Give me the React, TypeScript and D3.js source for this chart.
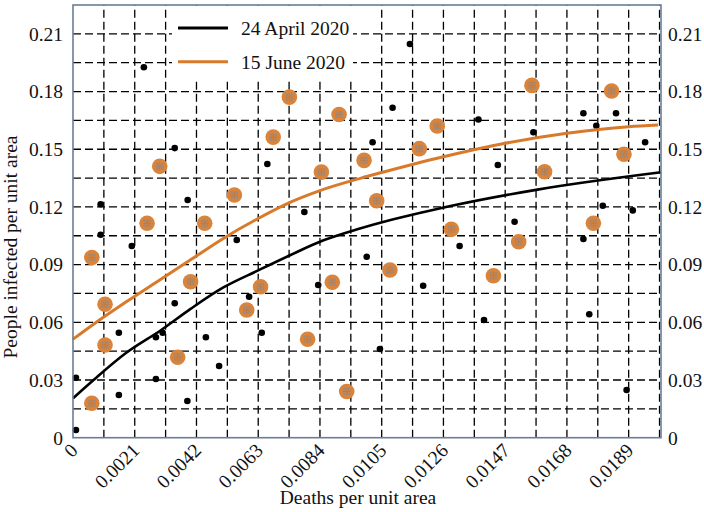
import React from "react";
import * as d3 from "d3";

const W = 704;
const H = 512;

// Fitted curves
const aprilX = [0, 0.0007, 0.0018, 0.003, 0.004, 0.0051, 0.0063, 0.0074, 0.0085, 0.0097, 0.0108, 0.0119, 0.0128, 0.0158, 0.02];
const aprilY = [0.0205, 0.03, 0.044, 0.056, 0.067, 0.078, 0.087, 0.095, 0.1025, 0.1085, 0.1132, 0.1172, 0.1203, 0.129, 0.138];

const juneX = [0, 0.0007, 0.0018, 0.003, 0.004, 0.0051, 0.0063, 0.0074, 0.0084, 0.0098, 0.0105, 0.0126, 0.0147, 0.0168, 0.0189, 0.0199];
const juneY = [0.0512, 0.059, 0.0705, 0.0825, 0.0925, 0.1035, 0.114, 0.1225, 0.1285, 0.135, 0.1379, 0.1461, 0.1531, 0.1583, 0.1617, 0.1626];

// Scatter: 24 April 2020 (black dots)
const aprilPtsX = [0.0001, 0.0001, 0.00094, 0.00094, 0.00156, 0.00156, 0.002, 0.00241, 0.00282, 0.00282, 0.00305, 0.00346, 0.00346, 0.0039, 0.00389, 0.00452, 0.00497, 0.00557, 0.00599, 0.00642, 0.00661, 0.00787, 0.00834, 0.00999, 0.01044, 0.01087, 0.01019, 0.01146, 0.01191, 0.01315, 0.01379, 0.01398, 0.01445, 0.01502, 0.01566, 0.01736, 0.01736, 0.01756, 0.0178, 0.01802, 0.01847, 0.01883, 0.01904, 0.01946];
const aprilPtsY = [0.004, 0.0312, 0.1214, 0.1055, 0.0222, 0.0546, 0.0997, 0.1926, 0.0522, 0.0305, 0.0546, 0.1506, 0.0699, 0.1236, 0.0191, 0.0522, 0.0373, 0.1028, 0.0733, 0.0546, 0.1423, 0.1174, 0.0794, 0.0941, 0.0461, 0.1716, 0.1536, 0.2047, 0.079, 0.0997, 0.1655, 0.0612, 0.1418, 0.1123, 0.1588, 0.1687, 0.1033, 0.0642, 0.1622, 0.1206, 0.1687, 0.0248, 0.1182, 0.1536];

// Scatter: 15 June 2020 (orange circles)
const junePtsX = [0.00064, 0.00109, 0.00109, 0.00064, 0.00252, 0.00295, 0.00356, 0.004, 0.00448, 0.00549, 0.00591, 0.00638, 0.00681, 0.00736, 0.00798, 0.00845, 0.00882, 0.00905, 0.00931, 0.0099, 0.01033, 0.01078, 0.01178, 0.01239, 0.01287, 0.0143, 0.01516, 0.01561, 0.01604, 0.0177, 0.01832, 0.01874];
const junePtsY = [0.0937, 0.0694, 0.0482, 0.0179, 0.1115, 0.1411, 0.0418, 0.0811, 0.1115, 0.1262, 0.0664, 0.0785, 0.1563, 0.1771, 0.0512, 0.1381, 0.0808, 0.1681, 0.024, 0.1442, 0.1232, 0.0872, 0.1503, 0.1621, 0.1084, 0.0842, 0.1019, 0.1832, 0.1383, 0.1115, 0.1803, 0.1474];

const xTicks = [0, 0.0021, 0.0042, 0.0063, 0.0084, 0.0105, 0.0126, 0.0147, 0.0168, 0.0189];
const xTickLabels = ["0", "0.0021", "0.0042", "0.0063", "0.0084", "0.0105", "0.0126", "0.0147", "0.0168", "0.0189"];
const yTicks = [0, 0.03, 0.06, 0.09, 0.12, 0.15, 0.18, 0.21];
const yTickLabels = ["0", "0.03", "0.06", "0.09", "0.12", "0.15", "0.18", "0.21"];

const seriesNames = ["24 April 2020", "15 June 2020"];

const xTitle = "Deaths per unit area";
const yTitle = "People infected per unit area";

const FONT = "'Liberation Serif', 'DejaVu Serif', serif";
const ORANGE = "#d9843a";
const ORANGE_LINE = "#d97a2a";
const FRAME = "#6b7d96";
const FS = 19.5;

export default function App() {
  const left = 73, right = 661, top = 5, bottom = 437.7;
  const x = d3.scaleLinear().domain([0, 0.02]).range([left, right]);
  const y = d3.scaleLinear().domain([0, 0.225]).range([bottom, top]);

  const xGrid = d3.range(1, 20).map((i) => i * 0.00105);
  const yGrid = d3.range(1, 15).map((i) => i * 0.015);

  const line = d3
    .line<[number, number]>()
    .x((d) => x(d[0]))
    .y((d) => y(d[1]))
    .curve(d3.curveMonotoneX);

  const aprilPath = line(aprilX.map((v, i) => [v, aprilY[i]] as [number, number])) || "";
  const junePath = line(juneX.map((v, i) => [v, juneY[i]] as [number, number])) || "";

  return (
    <svg
      width={W}
      height={H}
      style={{ position: "absolute", left: 0, top: 0, background: "#fff" }}
      fontFamily={FONT}
    >
      <rect x={0} y={0} width={W} height={H} fill="#fff" />
      {/* grid */}
      <g stroke="#000" strokeWidth={1.3} strokeDasharray="8,4">
        {xGrid.map((v, i) => (
          <line key={"gx" + i} x1={x(v)} x2={x(v)} y1={bottom} y2={top} />
        ))}
        {yGrid.map((v, i) => (
          <line key={"gy" + i} x1={left} x2={right} y1={y(v)} y2={y(v)} />
        ))}
      </g>
      {/* legend background */}
      <rect x={172} y={top + 1} width={181} height={73} fill="#fff" />

      {/* scatter */}
      <g>
        {aprilPtsX.map((v, i) => (
          <circle key={"a" + i} cx={x(v)} cy={y(aprilPtsY[i])} r={3.3} fill="#000" />
        ))}
      </g>
      <g>
        {junePtsX.map((v, i) => {
          const cx = x(v);
          const cy = y(junePtsY[i]);
          return (
            <g key={"j" + i}>
              <circle cx={cx} cy={cy} r={7.8} fill={ORANGE} />
              {[[-2.3, -2.3], [2.3, -2.3], [-2.3, 2.3], [2.3, 2.3]].map((o, k) => (
                <circle key={k} cx={cx + o[0]} cy={cy + o[1]} r={1.4} fill="#9a8a80" />
              ))}
              <line x1={cx - 4} x2={cx + 4} y1={cy} y2={cy} stroke="#b07a55" strokeWidth={0.8} />
              <line x1={cx} x2={cx} y1={cy - 4} y2={cy + 4} stroke="#b07a55" strokeWidth={0.8} />
            </g>
          );
        })}
      </g>

      {/* curves */}
      <path d={aprilPath} fill="none" stroke="#000" strokeWidth={2.6} />
      <path d={junePath} fill="none" stroke={ORANGE_LINE} strokeWidth={3} />

      {/* frame */}
      <rect x={left} y={top} width={right - left} height={bottom - top} fill="none" stroke={FRAME} strokeWidth={1.6} />

      {/* legend */}
      <line x1={178} x2={228} y1={28} y2={28} stroke="#000" strokeWidth={3} />
      <line x1={178} x2={228} y1={61.7} y2={61.7} stroke={ORANGE_LINE} strokeWidth={3} />
      <text x={241} y={28} dy="0.35em" fontSize={FS} fill="#111">{seriesNames[0]}</text>
      <text x={241} y={61.7} dy="0.35em" fontSize={FS} fill="#111">{seriesNames[1]}</text>

      {/* y ticks left and right */}
      {yTicks.map((v, i) => (
        <g key={"yt" + i} fontSize={FS} fill="#111">
          <text x={63} y={y(v)} dy="0.35em" textAnchor="end">{yTickLabels[i]}</text>
          <text x={668} y={y(v)} dy="0.35em" textAnchor="start">{yTickLabels[i]}</text>
        </g>
      ))}

      {/* x ticks */}
      {xTicks.map((v, i) => (
        <text
          key={"xt" + i}
          transform={`translate(${x(v) + 6},${bottom + 14}) rotate(-45)`}
          textAnchor="end"
          fontSize={FS}
          fill="#111"
        >
          {xTickLabels[i]}
        </text>
      ))}

      {/* axis titles */}
      <text x={358} y={504} textAnchor="middle" fontSize={FS} fill="#111">{xTitle}</text>
      <text transform={`translate(17,247) rotate(-90)`} textAnchor="middle" fontSize={FS} fill="#111">{yTitle}</text>
    </svg>
  );
}
